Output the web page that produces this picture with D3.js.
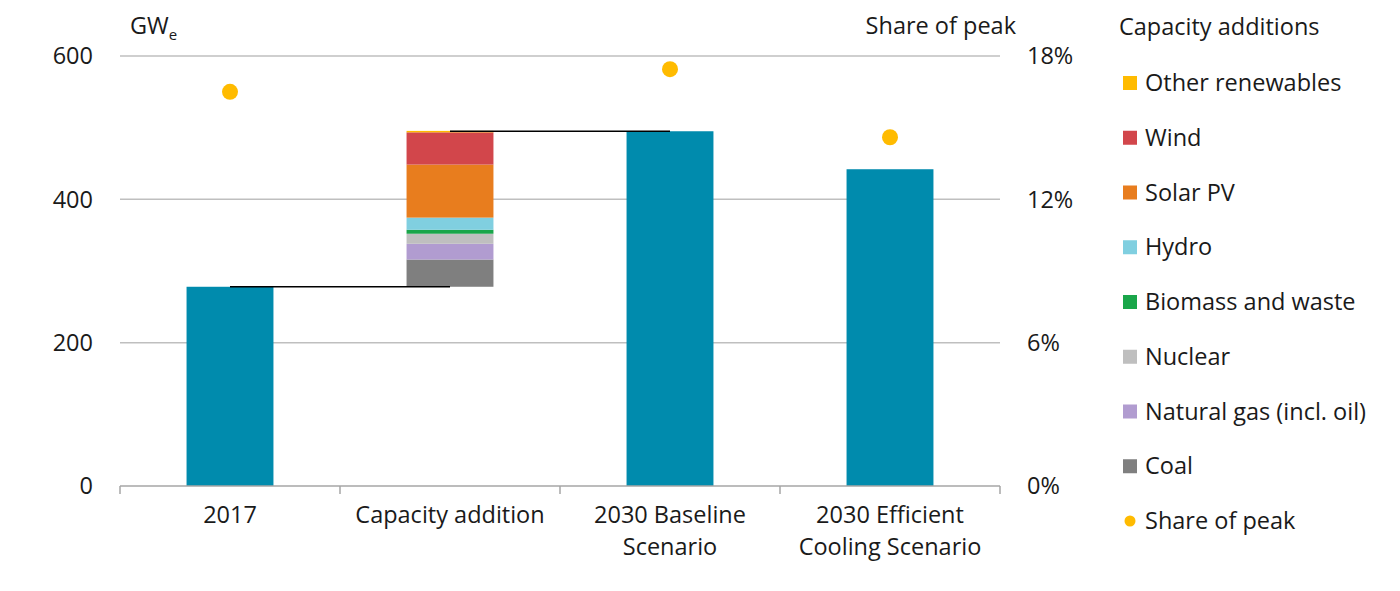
<!DOCTYPE html>
<html>
<head>
<meta charset="utf-8">
<script src="https://cdn.jsdelivr.net/npm/d3@7"></script>
<style>
  body { margin: 0; background: #fff; }
  svg text { font-family: "Open Sans", "Noto Sans", sans-serif; fill: #1a1a1a; }
</style>
</head>
<body>
<div id="chart"></div>
<script>
// categories on the x axis
const categories = ["2017", "Capacity addition", "2030 Baseline Scenario", "2030 Efficient Cooling Scenario"];
const categoryLines = [["2017"], ["Capacity addition"], ["2030 Baseline", "Scenario"], ["2030 Efficient", "Cooling Scenario"]];

// total capacity bars (GWe)
const totalCategories = ["2017", "2030 Baseline Scenario", "2030 Efficient Cooling Scenario"];
const totalValues = [278, 495, 442];

// capacity additions, bottom to top (GWe)
const additionNames = ["Coal", "Natural gas (incl. oil)", "Nuclear", "Biomass and waste", "Hydro", "Solar PV", "Wind", "Other renewables"];
const additionValues = [38, 22, 14, 5.5, 17, 74, 45, 2];
const additionColors = ["#7f7f7f", "#b19cd0", "#bfbfbf", "#1aa64a", "#80cfe0", "#e87d1e", "#d2464b", "#ffbb00"];

// share of peak (%)
const shareCategories = ["2017", "2030 Baseline Scenario", "2030 Efficient Cooling Scenario"];
const shareValues = [16.5, 17.45, 14.6];

const leftTicks = [0, 200, 400, 600];
const rightTicks = [0, 6, 12, 18];

const barColor = "#008bad";
const dotColor = "#ffbb00";
const fontSize = "23.5px";

const margin = {top: 56, right: 400, bottom: 105, left: 120};
const W = 1400, H = 591;
const width = W - margin.left - margin.right;
const height = H - margin.top - margin.bottom;

const svg = d3.select("#chart").append("svg")
    .attr("width", W)
    .attr("height", H);

const g = svg.append("g")
    .attr("transform", `translate(${margin.left},${margin.top})`);

const x = d3.scaleBand()
    .domain(categories)
    .range([0, width])
    .paddingInner(0)
    .paddingOuter(0);

const y = d3.scaleLinear().domain([0, 600]).range([height, 0]);
const y2 = d3.scaleLinear().domain([0, 18]).range([height, 0]);

const barW = x.bandwidth() * 0.395;
const cx = d => x(d) + x.bandwidth() / 2;

// gridlines
g.selectAll(".grid")
    .data(leftTicks.filter(d => d > 0))
    .enter().append("line")
    .attr("x1", 0).attr("x2", width)
    .attr("y1", d => y(d)).attr("y2", d => y(d))
    .attr("stroke", "#bfbfbf")
    .attr("stroke-width", 1.5);

// left axis labels
g.selectAll(".ly")
    .data(leftTicks)
    .enter().append("text")
    .attr("x", -27)
    .attr("y", d => y(d))
    .attr("dy", "0.35em")
    .attr("text-anchor", "end")
    .style("font-size", fontSize)
    .text(d => d);

// right axis labels
g.selectAll(".ry")
    .data(rightTicks)
    .enter().append("text")
    .attr("x", width + 27)
    .attr("y", d => y2(d))
    .attr("dy", "0.35em")
    .attr("text-anchor", "start")
    .style("font-size", fontSize)
    .text(d => d + "%");

// axis titles
const unit = g.append("text")
    .attr("x", 10)
    .attr("y", -22)
    .style("font-size", fontSize)
    .text("GW");
unit.append("tspan")
    .attr("dy", 6)
    .style("font-size", "15px")
    .text("e");

g.append("text")
    .attr("x", width + 16)
    .attr("y", -22)
    .attr("text-anchor", "end")
    .style("font-size", fontSize)
    .text("Share of peak");

// total bars
g.selectAll(".bar")
    .data(totalCategories.map((c, i) => ({c, v: totalValues[i]})))
    .enter().append("rect")
    .attr("class", "bar")
    .attr("x", d => cx(d.c) - barW / 2)
    .attr("y", d => y(d.v))
    .attr("width", barW)
    .attr("height", d => height - y(d.v))
    .attr("fill", barColor);

// stacked additions starting from the 2017 total
const base = totalValues[0];
let acc = base;
const stackData = additionValues.map((v, i) => {
    const d = {name: additionNames[i], y0: acc, y1: acc + v, color: additionColors[i]};
    acc += v;
    return d;
});

g.selectAll(".stack")
    .data(stackData)
    .enter().append("rect")
    .attr("class", "stack")
    .attr("x", cx(categories[1]) - barW / 2)
    .attr("y", d => y(d.y1))
    .attr("width", barW)
    .attr("height", d => y(d.y0) - y(d.y1))
    .attr("fill", d => d.color);

// connector lines
g.append("line")
    .attr("x1", cx(categories[0])).attr("x2", cx(categories[1]))
    .attr("y1", y(base)).attr("y2", y(base))
    .attr("stroke", "#000").attr("stroke-width", 1.5);
g.append("line")
    .attr("x1", cx(categories[1])).attr("x2", cx(categories[2]))
    .attr("y1", y(totalValues[1])).attr("y2", y(totalValues[1]))
    .attr("stroke", "#000").attr("stroke-width", 1.5);

// share of peak dots
g.selectAll(".dot")
    .data(shareCategories.map((c, i) => ({c, v: shareValues[i]})))
    .enter().append("circle")
    .attr("cx", d => cx(d.c))
    .attr("cy", d => y2(d.v))
    .attr("r", 8)
    .attr("fill", dotColor);

// x axis
g.append("line")
    .attr("x1", 0).attr("x2", width)
    .attr("y1", height).attr("y2", height)
    .attr("stroke", "#a6a6a6").attr("stroke-width", 1.5);

const tickPos = categories.map(c => x(c)).concat([width]);
g.selectAll(".xtick")
    .data(tickPos)
    .enter().append("line")
    .attr("x1", d => d).attr("x2", d => d)
    .attr("y1", height).attr("y2", height + 8)
    .attr("stroke", "#a6a6a6").attr("stroke-width", 1.5);

const xl = g.selectAll(".xl")
    .data(categories)
    .enter().append("text")
    .attr("x", d => cx(d))
    .attr("y", height + 37)
    .attr("text-anchor", "middle")
    .style("font-size", fontSize);
xl.each(function(d, i) {
    const t = d3.select(this);
    categoryLines[i].forEach((line, j) => {
        t.append("tspan")
            .attr("x", cx(d))
            .attr("dy", j === 0 ? 0 : 32)
            .text(line);
    });
});

// legend
const legend = svg.append("g").attr("transform", "translate(1119,0)");
legend.append("text")
    .attr("x", 0)
    .attr("y", 35)
    .style("font-size", fontSize)
    .text("Capacity additions");

const legendItems = additionNames.map((n, i) => ({name: n, color: additionColors[i], type: "sq"})).reverse()
    .concat([{name: "Share of peak", color: dotColor, type: "dot"}]);

const li = legend.selectAll(".li")
    .data(legendItems)
    .enter().append("g")
    .attr("transform", (d, i) => `translate(0,${83 + i * 54.75})`);

li.filter(d => d.type === "sq").append("rect")
    .attr("x", 4).attr("y", -7)
    .attr("width", 14).attr("height", 14)
    .attr("fill", d => d.color);
li.filter(d => d.type === "dot").append("circle")
    .attr("cx", 11).attr("cy", 0).attr("r", 5.5)
    .attr("fill", d => d.color);
li.append("text")
    .attr("x", 26)
    .attr("y", 0)
    .attr("dy", "0.35em")
    .style("font-size", fontSize)
    .text(d => d.name);
</script>
</body>
</html>
